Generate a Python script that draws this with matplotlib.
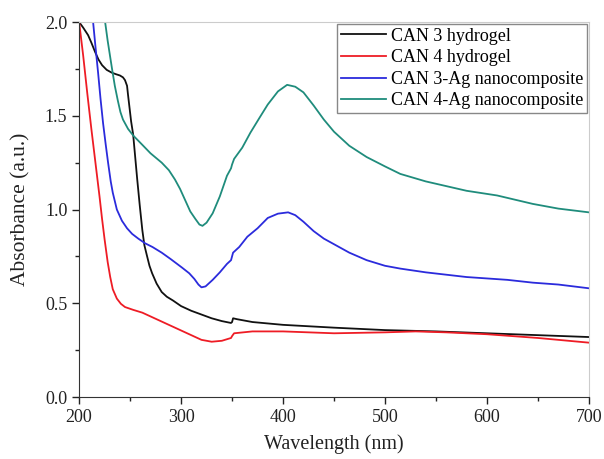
import matplotlib
matplotlib.use("Agg")
import matplotlib.pyplot as plt
from matplotlib.ticker import MultipleLocator

plt.rcParams["font.family"] = ["Liberation Serif", "DejaVu Serif"]

labels = ["CAN 3 hydrogel", "CAN 4 hydrogel", "CAN 3-Ag nanocomposite", "CAN 4-Ag nanocomposite"]
colors = ["#111111", "#ee1c25", "#2b2bdc", "#1f8c7c"]

# CAN 3 hydrogel
wl_can3 = [200, 204, 208.8, 212, 215.7, 219, 222.5, 227, 232, 236, 240, 243, 245, 247, 248, 249.5, 251, 253,
           255, 257, 259.5, 262, 264, 266.7, 269, 271.6, 276, 281, 286, 292, 300, 310, 320, 330, 340, 349,
           350, 351, 355, 370, 400, 450, 500, 550, 600, 650, 700]
ab_can3 = [2.0, 1.97, 1.93, 1.89, 1.84, 1.80, 1.77, 1.745, 1.73, 1.722, 1.715, 1.705, 1.69, 1.66, 1.61,
           1.54, 1.47, 1.40, 1.28, 1.16, 1.02, 0.89, 0.81, 0.75, 0.70, 0.66, 0.605, 0.56, 0.535, 0.515,
           0.485, 0.46, 0.44, 0.42, 0.405, 0.395, 0.40, 0.42, 0.415, 0.40, 0.385, 0.37, 0.357, 0.35, 0.34,
           0.33, 0.32]

# CAN 4 hydrogel
wl_can4 = [200, 204, 208, 212, 216, 220, 222.5, 225, 228, 230.5, 233, 237, 241, 245, 253, 262, 270, 280,
           294, 300, 310, 320, 330, 340, 349, 350, 352, 370, 400, 450, 500, 530, 560, 600, 650, 700]
ab_can4 = [2.0, 1.82, 1.62, 1.43, 1.25, 1.07, 0.95, 0.84, 0.72, 0.64, 0.575, 0.525, 0.497, 0.48, 0.465,
           0.45, 0.43, 0.405, 0.37, 0.355, 0.33, 0.305, 0.295, 0.30, 0.315, 0.325, 0.34, 0.35, 0.35, 0.34,
           0.345, 0.35, 0.345, 0.335, 0.315, 0.29]

# CAN 3-Ag nanocomposite
wl_can3ag = [213.7, 216, 218.6, 221, 223.5, 226, 228.4, 231, 233, 237, 242, 247, 252, 258, 264.7, 272, 281,
             290, 301, 308, 313, 317, 320, 324, 331, 338, 345, 349, 350, 351, 357, 365, 375, 385, 395, 405,
             412, 420, 430, 440, 450, 465, 482, 500, 515, 540, 580, 620, 645, 670, 700]
ab_can3ag = [2.0, 1.87, 1.73, 1.59, 1.46, 1.35, 1.25, 1.15, 1.09, 1.00, 0.94, 0.90, 0.87, 0.845, 0.82,
             0.80, 0.77, 0.735, 0.69, 0.66, 0.63, 0.60, 0.585, 0.59, 0.625, 0.665, 0.71, 0.73, 0.75, 0.77,
             0.80, 0.855, 0.90, 0.955, 0.978, 0.985, 0.97, 0.935, 0.885, 0.845, 0.815, 0.77, 0.73, 0.70,
             0.685, 0.665, 0.64, 0.625, 0.61, 0.60, 0.58]

# CAN 4-Ag nanocomposite
wl_can4ag = [225.5, 228, 230, 232, 235, 238, 240.5, 243, 248, 253, 262, 270, 281, 288, 294, 299, 304, 309,
             314, 318, 321, 325, 331, 338, 345, 349, 350, 352, 360, 368, 377, 385, 395, 404, 412, 420, 430,
             440, 450, 465, 482, 500, 515, 540, 580, 610, 645, 670, 700]
ab_can4ag = [2.0, 1.90, 1.83, 1.76, 1.66, 1.58, 1.52, 1.48, 1.43, 1.395, 1.345, 1.30, 1.25, 1.21, 1.16,
             1.11, 1.05, 0.99, 0.95, 0.92, 0.913, 0.93, 0.98, 1.07, 1.18, 1.22, 1.24, 1.27, 1.33, 1.41, 1.49,
             1.56, 1.63, 1.665, 1.655, 1.625, 1.555, 1.48, 1.415, 1.34, 1.28, 1.23, 1.19, 1.15, 1.10, 1.075,
             1.03, 1.005, 0.985]

series = [(wl_can3, ab_can3), (wl_can4, ab_can4), (wl_can3ag, ab_can3ag), (wl_can4ag, ab_can4ag)]

fig = plt.figure(figsize=(6.04, 4.59), dpi=100)
ax = fig.add_axes([0.131, 0.135, 0.844, 0.817])

for (x, y), lab, c in zip(series, labels, colors):
    ax.plot(x, y, color=c, lw=1.3, label=lab)

ax.set_xlim(200, 700)
ax.set_ylim(0, 2.0)
ax.xaxis.set_major_locator(MultipleLocator(100))
ax.xaxis.set_minor_locator(MultipleLocator(50))
ax.yaxis.set_major_locator(MultipleLocator(0.5))
ax.yaxis.set_minor_locator(MultipleLocator(0.25))
ax.yaxis.set_major_formatter(matplotlib.ticker.FormatStrFormatter("%.1f"))
ax.tick_params(which="both", direction="out", top=False, right=False, labelsize=13, colors="#222222")
ax.tick_params(which="major", length=5, width=1)
ax.tick_params(which="minor", length=3, width=1)
for s in ["top", "right"]:
    ax.spines[s].set_color("#cccccc")
for s in ["left", "bottom"]:
    ax.spines[s].set_color("#333333")

ax.set_xlabel("Wavelength (nm)", fontsize=14.5, color="#222222", labelpad=6)
ax.set_ylabel("Absorbance (a.u.)", fontsize=15.5, color="#222222", labelpad=10)

leg = ax.legend(loc="upper right", fontsize=13, fancybox=False, handlelength=2.5, handletextpad=0.25,
                borderpad=0.2, labelspacing=0.25, borderaxespad=0.12, framealpha=1)
leg.get_frame().set_edgecolor("#888888")
leg.get_frame().set_linewidth(1.0)

fig.savefig("out.png", dpi=100)
